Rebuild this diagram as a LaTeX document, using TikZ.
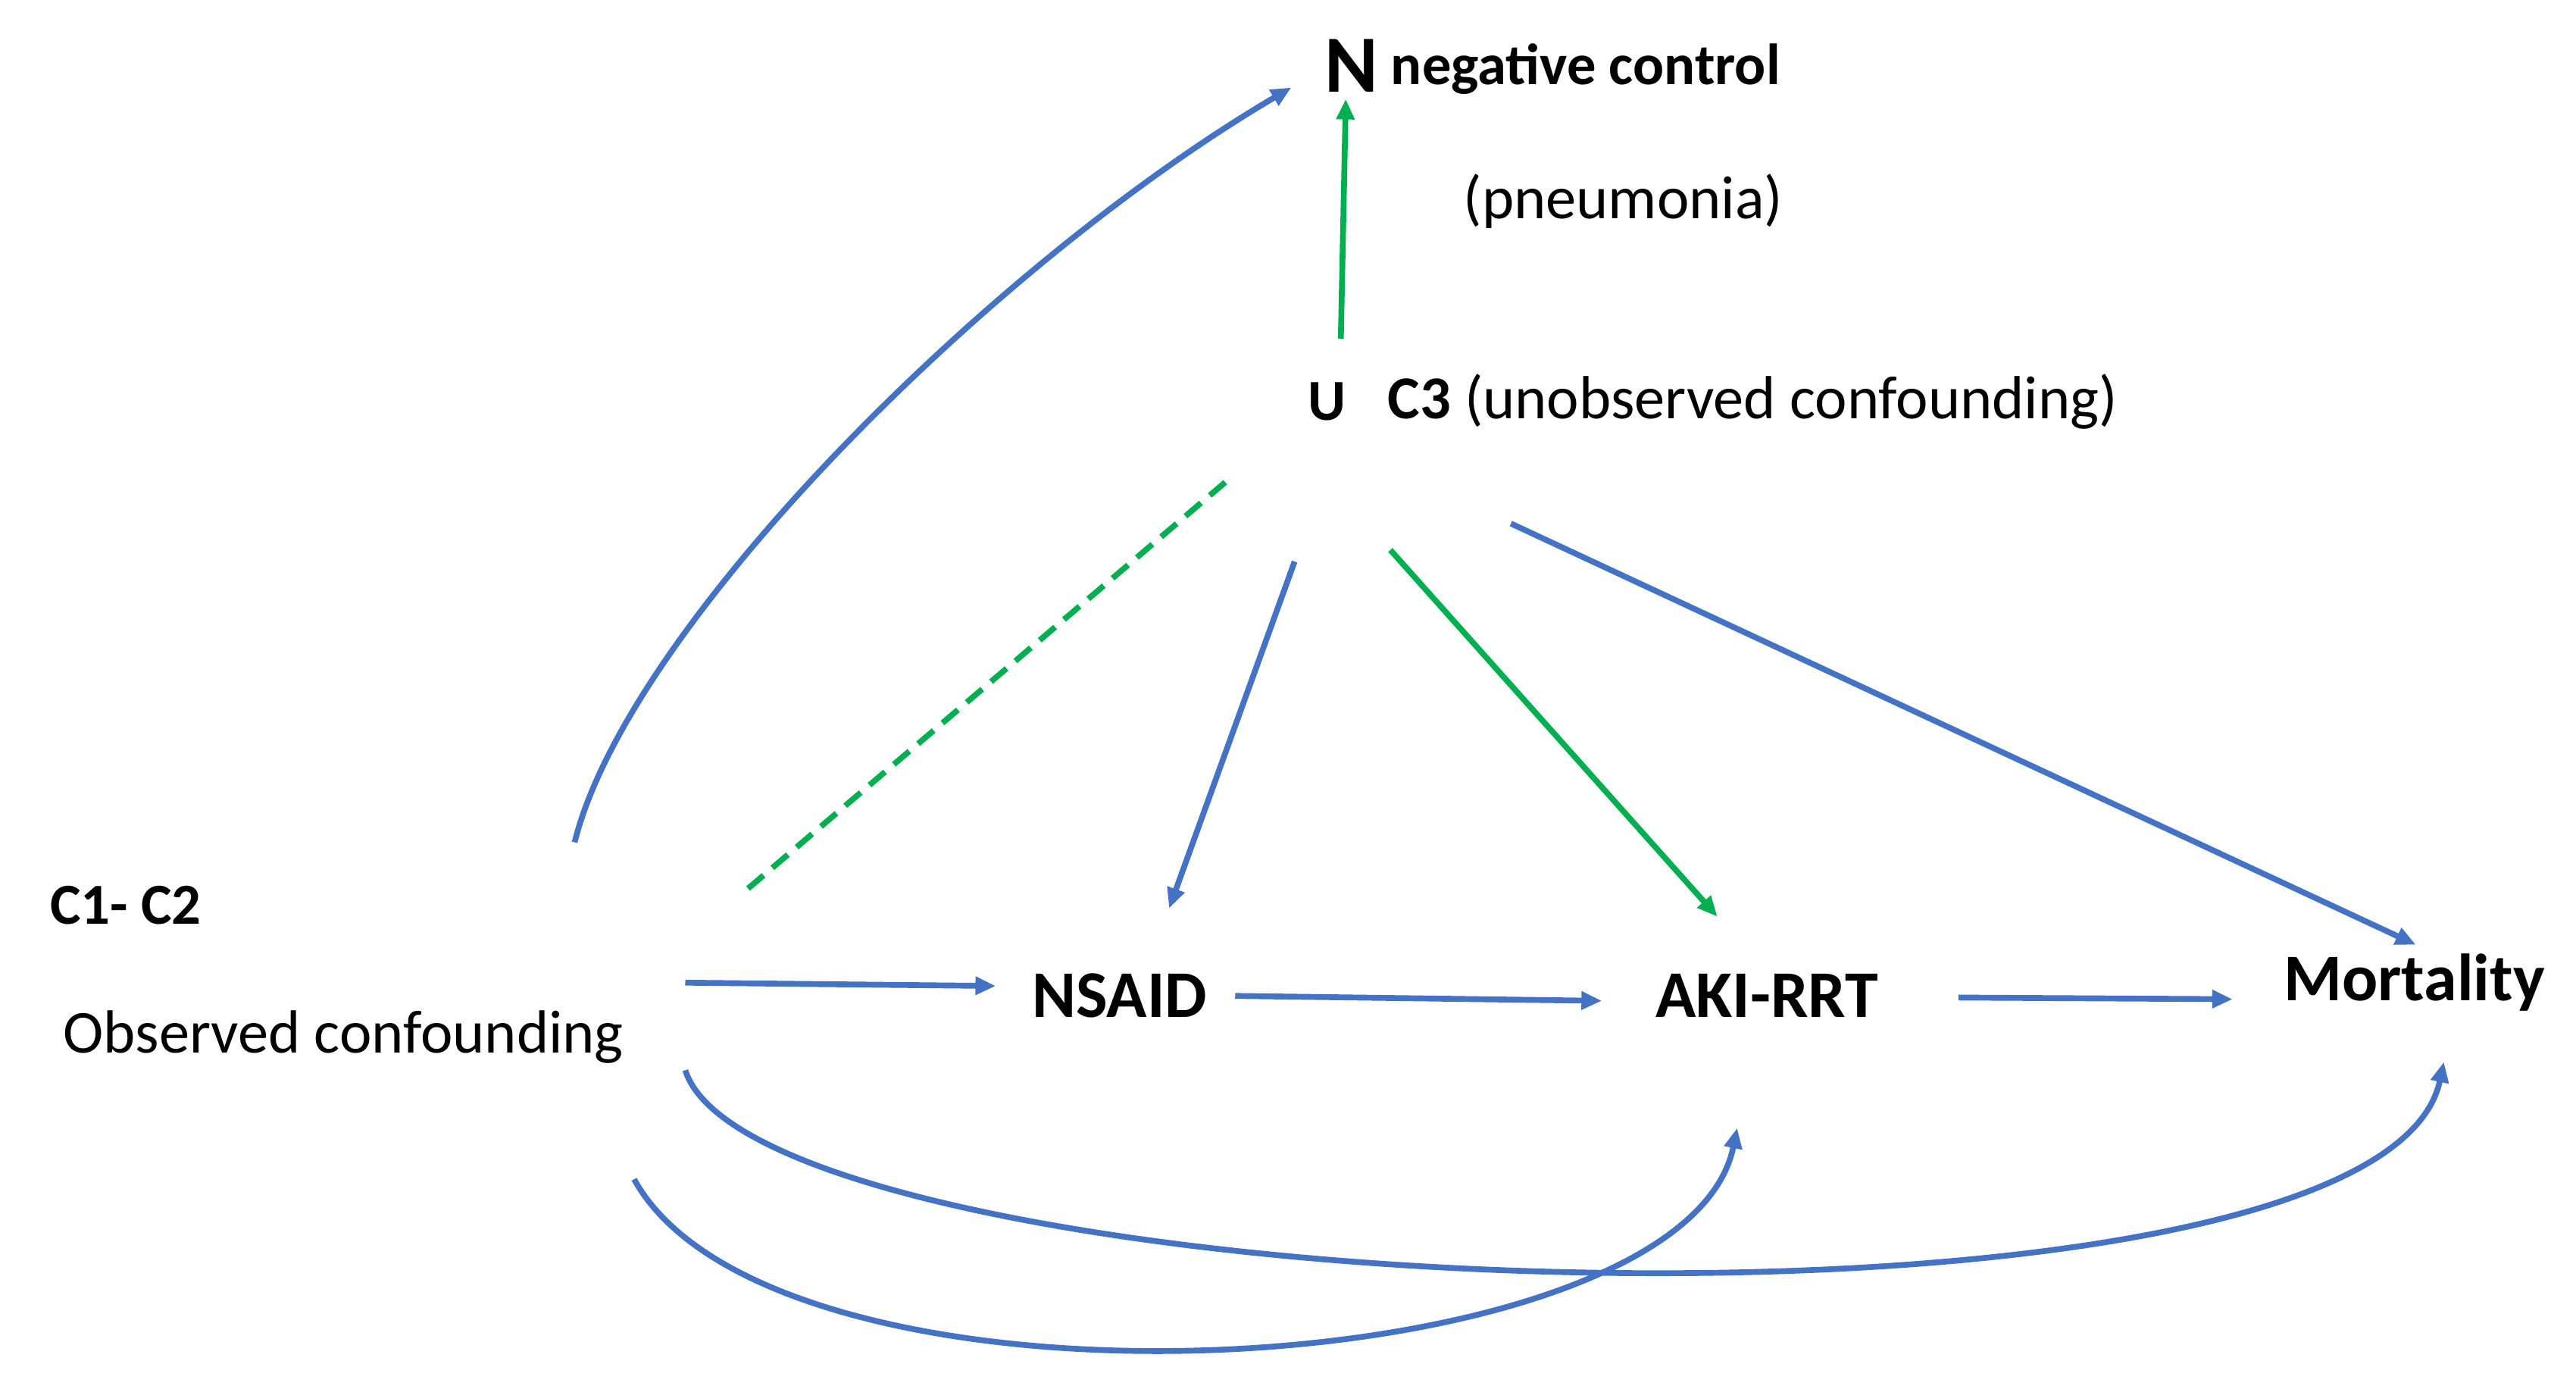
\documentclass[tikz,border=0pt]{standalone}
\usepackage{fontspec}
\setmainfont{Carlito}
\usetikzlibrary{arrows.meta}
\definecolor{bl}{HTML}{4472C4}
\definecolor{gr}{HTML}{00B050}
\begin{document}
\begin{tikzpicture}[x=0.02cm,y=-0.02cm,
  b/.style={bl,line width=2pt,-{Triangle[length=7pt,width=6pt]}},
  g/.style={gr,line width=2pt,-{Triangle[length=7pt,width=6pt]}},
  t/.style={inner sep=0pt,font=\fontsize{21}{24}\selectfont},
  tb/.style={inner sep=0pt,font=\fontsize{23}{26}\selectfont\bfseries}]
\useasboundingbox (0,0) rectangle (1560,841);
\node[t,anchor=west,font=\fontsize{28}{30}\selectfont\bfseries] (N) at (802,40) {N};
\node[t,anchor=west,font=\fontsize{20}{22}\selectfont\bfseries] (nc) at (842,42) {negative control};
\node[t] (pn) at (983,122) {(pneumonia)};
\node[t,anchor=west,font=\fontsize{20}{22}\selectfont\bfseries] (U) at (792,243) {U};
\node[t,anchor=west] (C3) at (840,243) {\textbf{C3} (unobserved confounding)};
\node[t,anchor=west,font=\fontsize{20}{22}\selectfont\bfseries] (C12) at (30,548) {C1- C2};
\node[t,anchor=west] (oc) at (38,628) {Observed confounding};
\node[tb] (NS) at (678,603) {NSAID};
\node[tb] (AK) at (1070,603) {AKI-RRT};
\node[tb] (MO) at (1462,595) {Mortality};
\coordinate (u1) at (812,205); \coordinate (n1) at (815,60);
\coordinate (c1) at (348,510); \coordinate (n2) at (782,53);
\coordinate (u2) at (742,292); \coordinate (c2) at (453,538);
\coordinate (u3) at (784,340); \coordinate (ns1) at (708,550);
\coordinate (u4) at (842,333); \coordinate (ak1) at (1040,555);
\coordinate (u5) at (915,317); \coordinate (mo1) at (1463,572);
\coordinate (c3) at (415,595); \coordinate (ns2) at (603,597);
\coordinate (ns3) at (748,603); \coordinate (ak2) at (970,606);
\coordinate (ak3) at (1186,604); \coordinate (mo2) at (1352,605);
\coordinate (c4) at (415,648); \coordinate (mo3) at (1480,643);
\coordinate (c5) at (384,714); \coordinate (ak4) at (1052,683);
\draw[g] (u1) -- (n1);
\draw[b] (c1) .. controls (380,380) and (600,160) .. (n2);
\draw[gr,line width=2pt,dashed,dash pattern=on 7pt off 4pt] (u2) -- (c2);
\draw[b] (u3) -- (ns1);
\draw[g] (u4) -- (ak1);
\draw[b] (u5) -- (mo1);
\draw[b] (c3) -- (ns2);
\draw[b] (ns3) -- (ak2);
\draw[b] (ak3) -- (mo2);
\draw[b] (c4) .. controls (460,790) and (1440,830) .. (mo3);
\draw[b] (c5) .. controls (470,870) and (1020,840) .. (ak4);
\end{tikzpicture}
\end{document}
